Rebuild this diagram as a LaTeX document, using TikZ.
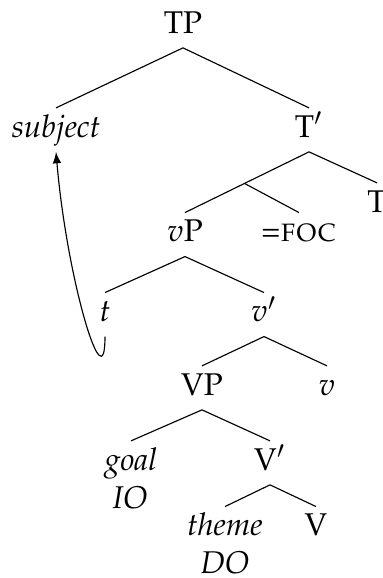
\documentclass[tikz,border=0pt]{standalone}
\usepackage[T1]{fontenc}
\usepackage{mathpazo}
\usetikzlibrary{calc}
\tikzset{
    lbl/.style={anchor=base, inner sep=2pt, text height=8pt, text depth=3pt,
        font=\fontsize{11}{13.6}\selectfont}
}
\begin{document}
\begin{tikzpicture}[>=latex, x=0.35pt, y=-0.35pt]
    \useasboundingbox (0,0) rectangle (383,578);
    % 1. Nodes of the tree
    \node[lbl] (tp) at (183,33) {TP};
    \node[lbl] (subj) at (56,137) {\textit{subject}};
    \node[lbl] (tbar) at (309,137) {T$'$};
    \node[lbl] (t0) at (377,212) {T};
    \node[lbl] (vp) at (185,241.7) {$v$P};
    \node[lbl] (foc) at (299,241.7) {=\textsc{foc}};
    \node[lbl] (tr) at (105,321.7) {$t$};
    \node[lbl] (vbar) at (264,321.7) {$v'$};
    \node[lbl] (bigvp) at (202,395) {VP};
    \node[lbl] (v0) at (327,395) {$v$};
    \node[lbl] (goal) at (131,470) {\textit{goal}};
    \node[lbl] (io) at (130,508) {\textit{IO}};
    \node[lbl] (vbarr) at (270,470) {V$'$};
    \node[lbl] (theme) at (225,535.7) {\textit{theme}};
    \node[lbl] (do) at (225,573) {\textit{DO}};
    \node[lbl] (bigv) at (316,535.7) {V};
    % empty node under T'
    \coordinate (tx) at ($(tbar.south)!0.52!(vp.north)$);
    
    % 2. Branches
    \draw (tp.south) -- (subj.north);
    \draw (tp.south) -- (tbar.north);
    \draw (tbar.south) -- (vp.north);
    \draw (tbar.south) -- (t0.north);
    \draw (tx) -- (foc.north);
    \draw (vp.south) -- (tr.north);
    \draw (vp.south) -- (vbar.north);
    \draw (vbar.south) -- (bigvp.north);
    \draw (vbar.south) -- (v0.north);
    \draw (bigvp.south) -- (goal.north);
    \draw (bigvp.south) -- (vbarr.north);
    \draw (vbarr.south) -- (theme.north);
    \draw (vbarr.south) -- (bigv.north);
    
    % 3. Movement arrow
    \draw[->] (tr.south) .. controls +(0,69) and +(11,129) .. (subj.south);
\end{tikzpicture}
\end{document}
